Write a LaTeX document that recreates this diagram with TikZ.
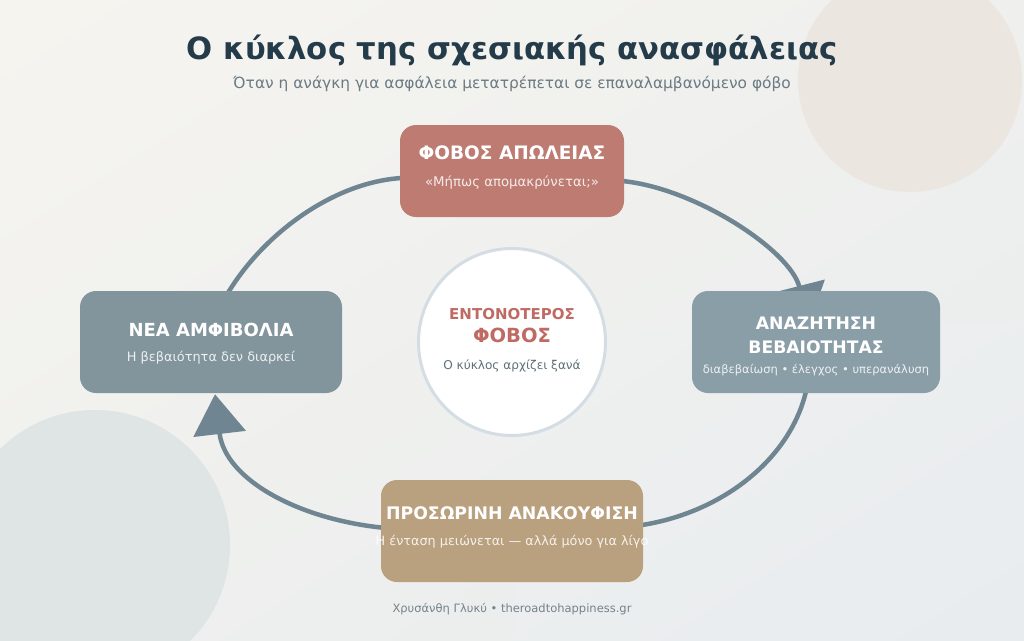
\documentclass[tikz,border=0pt]{standalone}
\usepackage{fontspec}
\setmainfont{DejaVu Sans}
\usetikzlibrary{arrows.meta,calc,shadings}
\definecolor{bgA}{HTML}{F6F4EF}
\definecolor{bgB}{HTML}{E8ECEF}
\definecolor{bgM}{HTML}{EFF0EE}
\definecolor{circTR}{HTML}{ECE6E0}
\definecolor{circBL}{HTML}{DFE4E5}
\definecolor{titleC}{HTML}{243B4A}
\definecolor{subC}{HTML}{6B7A83}
\definecolor{lineC}{HTML}{6F8591}
\definecolor{fearC}{HTML}{BE7B72}
\definecolor{seekC}{HTML}{8A9EA8}
\definecolor{doubtC}{HTML}{82959C}
\definecolor{reliefC}{HTML}{B9A07E}
\definecolor{ringC}{HTML}{D3DDE3}
\definecolor{redT}{HTML}{BF6B64}
\definecolor{grayT}{HTML}{5F707A}
\definecolor{footC}{HTML}{75838B}
\pgfdeclarelayer{back}
\pgfdeclarelayer{mid}
\pgfsetlayers{back,mid,main}
\tikzset{
  stagebox/.style={rounded corners=16pt, inner sep=0pt, minimum width=#1, minimum height=102pt},
  btxt/.style={text=white, font=\fontsize{#1}{20}\selectfont\bfseries, inner sep=0pt},
  stxt/.style={text=white, text opacity=0.85, font=\fontsize{#1}{15}\selectfont, inner sep=0pt},
  conn/.style={draw=lineC, line width=4.5pt},
  tip/.style={-{Triangle[length=40pt,width=52pt,fill=lineC]}}
}
\begin{document}
\begin{tikzpicture}[x=1pt,y=-1pt]
\useasboundingbox (0,0) rectangle (1024,640);
% nodes
\node[stagebox=224pt, minimum height=92pt, fill=fearC] (fear) at (512,171) {};
\node[stagebox=248pt, fill=seekC] (seek) at (816,342) {};
\node[stagebox=262pt, fill=doubtC] (doubt) at (211,342) {};
\node[stagebox=262pt, fill=reliefC] (relief) at (512,531) {};
\node[circle, minimum size=187pt, fill=white, draw=ringC, line width=3pt] (core) at (512,342) {};

\node[text=titleC, font=\fontsize{30.7}{34}\selectfont\bfseries] (title) at (512,50) {Ο κύκλος της σχεσιακής ανασφάλειας};
\node[text=subC, font=\fontsize{15.4}{18}\selectfont] (subtitle) at (512,84) {Όταν η ανάγκη για ασφάλεια μετατρέπεται σε επαναλαμβανόμενο φόβο};

\node[btxt=18.5] (fearT) at (512,153) {ΦΟΒΟΣ ΑΠΩΛΕΙΑΣ};
\node[stxt=13.3] (fearS) at (512,183) {«Μήπως απομακρύνεται;»};

\node[btxt=17.2] (seekT1) at (816,323) {ΑΝΑΖΗΤΗΣΗ};
\node[btxt=17.2] (seekT2) at (816,347) {ΒΕΒΑΙΟΤΗΤΑΣ};
\node[stxt=11.5] (seekS) at (816,370) {διαβεβαίωση • έλεγχος • υπερανάλυση};

\node[btxt=18] (doubtT) at (211,329.5) {ΝΕΑ ΑΜΦΙΒΟΛΙΑ};
\node[stxt=12.9] (doubtS) at (211,358) {Η βεβαιότητα δεν διαρκεί};

\node[btxt=17.3] (reliefT) at (512,513) {ΠΡΟΣΩΡΙΝΗ ΑΝΑΚΟΥΦΙΣΗ};
\node[stxt=12.8] (reliefS) at (512,542) {Η ένταση μειώνεται — αλλά μόνο για λίγο};

\node[text=redT, font=\fontsize{15}{18}\selectfont\bfseries] (coreT1) at (512,314) {ΕΝΤΟΝΟΤΕΡΟΣ};
\node[text=redT, font=\fontsize{19.5}{22}\selectfont\bfseries] (coreT2) at (512,335) {ΦΟΒΟΣ};
\node[text=grayT, font=\fontsize{12.1}{15}\selectfont] (coreS) at (512,366) {Ο κύκλος αρχίζει ξανά};

\node[text=footC, font=\fontsize{11.5}{14}\selectfont] (foot) at (512,609) {Χρυσάνθη Γλυκύ • theroadtohappiness.gr};

% background
\begin{pgfonlayer}{back}
\shade[upper left=bgA, upper right=bgM, lower left=bgM, lower right=bgB] (0,0) rectangle (1024,640);
\begin{scope}
\clip (0,0) rectangle (1024,640);
\fill[circTR] (910,80) circle[radius=112pt];
\fill[circBL] (95,545) circle[radius=135pt];
\end{scope}
\end{pgfonlayer}

% connectors
\begin{pgfonlayer}{mid}
\draw[conn] ($(fear.west)+(2,7)$) .. controls (335,182) and (265,232) .. ($(doubt.north)+(17,2)$);
\draw[conn, tip] ($(fear.east)+(-2,10)$) .. controls (695,188) and (790,250) .. ($(seek.north)+(-7,34)$);
\draw[conn] ($(seek.south)+(-10,-2)$) .. controls (790,460) and (720,515) .. ($(relief.east)+(-8,-5)$);
\draw[conn, tip] ($(relief.west)+(5,-3)$) .. controls (300,520) and (225,480) .. ($(doubt.south)+(4,1)$);
\end{pgfonlayer}
\end{tikzpicture}
\end{document}
